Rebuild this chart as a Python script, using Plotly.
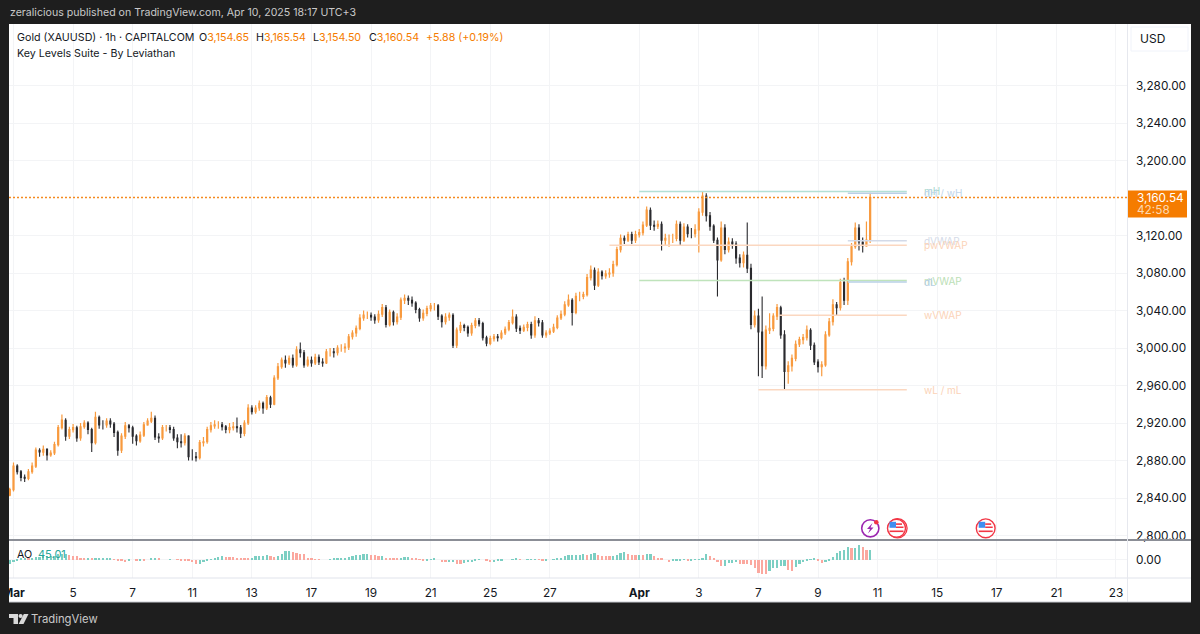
import plotly.graph_objects as go

W, H = 1200, 634

# ---- price data (3-hour-ish samples, one list per session) ----
first_open = 2843
closes = [2849,
 2874,2868,2862,2861,2868,2874,2891,2889,
 2892,2886,2888,2897,2915,2923,2906,2913,
 2915,2904,2916,2920,2913,2899,2926,2918,
 2918,2922,2919,2910,2891,2906,2917,2915,
 2906,2901,2907,2918,2922,2925,2905,2904,
 2915,2915,2913,2904,2900,2899,2906,2884,
 2884,2883,2899,2900,2913,2917,2918,2918,
 2916,2913,2915,2916,2915,2909,2920,2936,
 2932,2936,2941,2936,2947,2940,2968,2980,
 2987,2984,2989,2982,2998,2995,2982,2987,
 2984,2990,2985,2984,2996,2996,2995,3000,
 3000,3001,3012,3016,3021,3032,3035,3035,
 3033,3030,3036,3043,3025,3038,3028,3033,
 3051,3053,3051,3048,3041,3032,3037,3042,
 3045,3045,3034,3028,3033,3035,3003,3019,
 3024,3022,3016,3024,3029,3026,3011,3005,
 3010,3012,3011,3016,3020,3027,3033,3021,
 3019,3022,3025,3014,3029,3027,3014,3016,
 3018,3022,3032,3036,3046,3051,3038,3055,
 3055,3057,3075,3083,3067,3081,3077,3079,
 3080,3089,3105,3117,3115,3121,3115,3121,
 3123,3131,3147,3131,3130,3132,3115,3117,
 3117,3117,3132,3115,3129,3122,3122,3126,
 3145,3162,3141,3130,3115,3094,3128,3105,
 3113,3111,3096,3091,3099,3085,3025,3034,
 3017,2981,3019,3021,3034,3043,3014,2975,
 2981,2989,3004,3009,3011,3019,3003,2985,
 2980,2982,3014,3028,3046,3043,3070,3051,
 3092,3108,3128,3113,3109,3115,3160.54]
highs = [2851,
 2878,2876,2870,2865,2871,2878,2894,2893,
 2896,2893,2891,2900,2918,2929,2925,2916,
 2919,2917,2920,2923,2922,2915,2932,2928,
 2923,2925,2925,2921,2912,2909,2921,2919,
 2917,2908,2911,2921,2925,2932,2928,2909,
 2918,2918,2918,2916,2908,2908,2909,2907,
 2892,2889,2902,2905,2916,2921,2923,2922,
 2921,2918,2920,2921,2926,2918,2923,2940,
 2939,2939,2944,2943,2950,2949,2971,2984,
 2990,2992,2992,2993,3002,3006,2998,2991,
 2991,2994,2993,2989,2999,3000,3000,3003,
 3004,3005,3015,3019,3024,3036,3040,3039,
 3038,3036,3040,3047,3046,3041,3040,3037,
 3054,3057,3056,3055,3050,3043,3041,3045,
 3048,3048,3047,3036,3037,3038,3037,3022,
 3028,3026,3024,3027,3032,3032,3028,3013,
 3013,3015,3015,3019,3023,3030,3041,3036,
 3024,3025,3028,3028,3034,3032,3030,3019,
 3021,3026,3035,3040,3050,3057,3053,3059,
 3060,3060,3079,3088,3086,3085,3083,3083,
 3085,3093,3108,3121,3120,3124,3124,3125,
 3127,3135,3151,3150,3136,3136,3135,3122,
 3121,3122,3136,3135,3133,3132,3128,3132,
 3149,3167,3165,3145,3132,3118,3135,3132,
 3118,3117,3114,3100,3103,3134,3090,3040,
 3042,3055,3024,3037,3037,3047,3045,3019,
 2986,2993,3008,3012,3015,3024,3021,3006,
 2988,2986,3018,3032,3052,3049,3074,3075,
 3096,3112,3134,3132,3118,3135,3165.54]
lows = [2842,
 2847,2865,2858,2857,2859,2866,2872,2884,
 2885,2880,2884,2886,2895,2913,2901,2903,
 2910,2900,2901,2914,2908,2889,2897,2914,
 2913,2915,2915,2905,2885,2888,2903,2910,
 2898,2896,2899,2905,2917,2920,2902,2899,
 2902,2911,2909,2901,2893,2894,2896,2880,
 2880,2879,2881,2895,2898,2910,2914,2914,
 2912,2909,2909,2912,2910,2904,2906,2918,
 2929,2930,2933,2930,2934,2936,2939,2966,
 2978,2979,2982,2979,2980,2990,2979,2980,
 2980,2982,2982,2980,2983,2991,2990,2992,
 2996,2995,2998,3009,3012,3019,3029,3031,
 3029,3026,3027,3033,3022,3023,3024,3025,
 3030,3047,3046,3044,3037,3028,3029,3034,
 3039,3040,3030,3022,3025,3029,3000,3000,
 3016,3018,3012,3013,3021,3023,3008,3002,
 3003,3007,3007,3009,3014,3018,3025,3017,
 3015,3017,3018,3010,3011,3023,3011,3011,
 3014,3016,3020,3030,3034,3044,3024,3036,
 3050,3052,3055,3072,3062,3065,3073,3074,
 3075,3076,3087,3102,3111,3113,3111,3112,
 3118,3120,3129,3126,3125,3127,3104,3110,
 3108,3112,3114,3109,3113,3118,3117,3118,
 3102,3141,3135,3125,3112,3055,3092,3100,
 3102,3106,3090,3086,3086,3080,3020,3022,
 2970,2968,2977,3015,3018,3030,3010,2956,
 2962,2975,2986,3001,3004,3008,2998,2982,
 2974,2970,2980,3012,3024,3035,3040,3046,
 3046,3088,3106,3104,3102,3108,3112]
ao_values = [
 -21,-12,-3,6,9,6,9,12,12,15, 15,18,18,24,27,27,21,18,15,9,
 6,6,3,3,3,4,4,4,1.5,-3, -7,-10,-3,0,-3,-3,-4,0,4,4,
 3,0,0,1,0,-1,-3,-4,-6,-12, -21,-18,-12,-6,1,7,13,15,13,12,
 10,9,7,6,4,9,15,18,18,19, 16,13,18,27,37,37,33,30,27,24,
 9,3,1.5,1,0,0,1,4,6,7, 9,13,16,19,22,25,25,22,19,15,
 15,9,6,4,3,6,12,12,9,6, 1,-4,-3,1,3,0,-9,-12,-12,-10,
 -18,-21,-15,-12,-9,-6,1,0,-3,-12, -10,-6,-3,0,0,1,4,1,0,1,
 1,1,-1,-3,-3,0,1,6,9,15, 21,21,21,21,24,
 22,27,28,19,18,16,15,16,22,31, 34,27,22,21,21,19,24,27,15,9,
 4,0,-10,-7,-3,-3,-1,-3,-3,1, 1,9,25,18,3,-10,-30,-27,-15,-15,
 -10,-18,-19,-21,-25,-40,-61,-63,-67,-51, -40,-36,-30,-27,-48,-51,-33,-21,-13,-3,
 1,4,-3,-15,-10,-3,12,30,37,45, 57,51,54,66,57,42,45.01]
BARS_PER_SESSION = 8
opens = [first_open] + closes[:-1]
sessions = [(i - 1) / BARS_PER_SESSION for i in range(len(closes))]

# ---- axes ----
price_ticks = [2800,2840,2880,2920,2960,3000,3040,3080,3120,3200,3240,3280]
price_tick_labels = ["2,800.00","2,840.00","2,880.00","2,920.00","2,960.00","3,000.00","3,040.00",
                     "3,080.00","3,120.00","3,200.00","3,240.00","3,280.00"]
date_ticks = [0,2,4,6,8,10,12,14,16,18,21,23,25,27,29,31,33,35,37]
date_labels = ["<b>Mar</b>","5","7","11","13","17","19","21","25","27","<b>Apr</b>","3","7","9","11","15","17","21","23"]

# ---- key levels: name, price, start session, colour, label colour ----
level_names  = ["mH","dH / wH","dVWAP","pwVWAP","mVWAP","dL","wVWAP","wL / mL"]
level_prices = [3167,3165,3114.5,3109.5,3072,3070.4,3035,2955.5]
level_starts = [21,28,28,20,21,28,25.7,25]
level_colors = ["#b3e0d6","#b9cfe6","#d3dae8","#fbd7c0","#bfe3bb","#b9d0e6","#fbd7c0","#fbd7c0"]
label_colors = ["#a5d8cd","#c0d5ea","#d5dbe8","#fbd3b8","#bbe0b6","#b6cfe3","#fbd3b8","#fbd3b8"]
level_end = 29.98
label_session = 30.53
last_price = 3160.54

AXIS_RIGHT = 37.37
AXIS_LEFT = -0.151

GRID = "#f3f4f6"
INK = "#131722"
ORANGE = "#f57c00"

def px(x): return x / W
def py(y): return 1 - y / H

fig = go.Figure()

for name, p, s, c in zip(level_names, level_prices, level_starts, level_colors):
    fig.add_trace(go.Scatter(x=[s, level_end], y=[p, p], mode="lines", line=dict(color=c, width=1.5),
                             xaxis="x", yaxis="y", showlegend=False, hoverinfo="skip"))

fig.add_trace(go.Scatter(x=[AXIS_LEFT, AXIS_RIGHT], y=[last_price, last_price], mode="lines",
                         line=dict(color="#f58a1f", width=1.6, dash="2px,2px"),
                         xaxis="x", yaxis="y", showlegend=False, hoverinfo="skip"))

fig.add_trace(go.Candlestick(x=sessions, open=opens, high=highs, low=lows, close=closes,
                             increasing=dict(line=dict(color="#f89a3e", width=1.2), fillcolor="#f89a3e"),
                             decreasing=dict(line=dict(color="#2a2a2e", width=1.1), fillcolor="#2a2a2e"),
                             whiskerwidth=0, xaxis="x", yaxis="y", showlegend=False))

ao_colors = ["#7ccfc3" if i == 0 or v >= ao_values[i - 1] else "#fba89f" for i, v in enumerate(ao_values)]
fig.add_trace(go.Bar(x=sessions[:len(ao_values)], y=ao_values, marker=dict(color=ao_colors, line_width=0),
                     width=0.075, xaxis="x2", yaxis="y2", showlegend=False))

shapes = []
shapes.append(dict(type="rect", xref="paper", yref="paper", x0=px(9), x1=px(1191), y0=py(602), y1=py(24),
                   fillcolor="#ffffff", line_width=0, layer="below"))
shapes.append(dict(type="rect", xref="paper", yref="paper", x0=0, x1=px(9), y0=py(610), y1=py(570),
                   fillcolor="#1e1e1e", line_width=0, layer="above"))
shapes.append(dict(type="line", xref="paper", yref="paper", x0=px(9), x1=px(1191), y0=py(540), y1=py(540),
                   line=dict(color="#8b8e96", width=2), layer="above"))
shapes.append(dict(type="line", xref="paper", yref="paper", x0=px(9), x1=px(1191), y0=py(578), y1=py(578),
                   line=dict(color="#e0e3eb", width=1), layer="above"))
shapes.append(dict(type="line", xref="paper", yref="paper", x0=px(1127.5), x1=px(1127.5), y0=py(602), y1=py(24),
                   line=dict(color="#e6e8ee", width=1), layer="above"))
shapes.append(dict(type="line", xref="paper", yref="paper", x0=px(9), x1=px(1191), y0=py(602), y1=py(602),
                   line=dict(color="#c8cad0", width=1), layer="above"))

def circle(cx, cy, r, fill="rgba(0,0,0,0)", line=None, w=1):
    return dict(type="circle", xref="paper", yref="paper", x0=px(cx - r), x1=px(cx + r),
                y0=py(cy + r), y1=py(cy - r), fillcolor=fill,
                line=dict(color=line or "rgba(0,0,0,0)", width=w), layer="above")

def rect(x0, y0, x1, y1, fill):
    return dict(type="rect", xref="paper", yref="paper", x0=px(x0), x1=px(x1), y0=py(y1), y1=py(y0),
                fillcolor=fill, line_width=0, layer="above")

def poly(points, fill):
    d = "M" + " L".join(f"{px(a):.5f},{py(b):.5f}" for a, b in points) + " Z"
    return dict(type="path", xref="paper", yref="paper", path=d, fillcolor=fill, line_width=0, layer="above")

shapes.append(dict(type="rect", xref="paper", yref="paper", x0=px(1131), x1=px(1188), y0=py(51), y1=py(27),
                   fillcolor="#ffffff", line=dict(color="#f0f3fa", width=1), layer="above"))

# last-price tag
shapes.append(rect(1128, 190.5, 1187, 217.5, ORANGE))

shapes.append(circle(870.3, 528.3, 8.6, "#ffffff", "#9c27b0", 1.6))
shapes.append(poly([(872.5,523),(867,529),(870,529),(868,533.5),(873.5,527.5),(870.5,527.5)], "#9c27b0"))
shapes.append(circle(876.3, 522.3, 2.3, "#f23645"))

def flag(cx, cy, double):
    out = []
    if double:
        out.append(circle(cx + 1, cy, 9.6, "#ffffff", "#f23645", 1.3))
    out.append(circle(cx, cy, 9 if double else 9.4, "#ffffff", "#f23645", 1.4))
    out.append(rect(cx - 7, cy - 6.5, cx - 0.5, cy - 0.5, "#3f8ef0"))
    out.append(rect(cx - 0.5, cy - 5, cx + 5.5, cy - 3.4, "#f23645"))
    out.append(rect(cx - 0.5, cy - 1.8, cx + 7, cy - 0.3, "#f23645"))
    out.append(rect(cx - 7, cy + 2.2, cx + 7, cy + 3.8, "#f23645"))
    return out

shapes += flag(896.5, 528.3, True)
shapes += flag(985.7, 528.3, False)

shapes.append(poly([(9,614),(18,614),(18,624),(13.5,624),(13.5,618),(9,618)], "#d9d9d9"))
shapes.append(circle(20.6, 616, 2.1, "#d9d9d9"))
shapes.append(poly([(23.8,614),(28.5,614),(23.5,624),(18.7,624)], "#d9d9d9"))

def note(x, y, text, size=10.7, color=INK, anchor="left"):
    return dict(xref="paper", yref="paper", x=px(x), y=py(y), text=text, showarrow=False,
                xanchor=anchor, yanchor="middle", font=dict(size=size, color=color, family="Inter"),
                align="left", borderpad=0)

def orange(s): return f'<span style="color:{ORANGE}">{s}</span>'

notes = [
    note(9, 13, "zeralicious published on TradingView.com, Apr 10, 2025 18:17 UTC+3", 10.6, "#c9c9c9"),
    note(16, 38, "Gold (XAUUSD) · 1h · CAPITALCOM"),
    note(198, 38, "O" + orange("3,154.65")),
    note(255, 38, "H" + orange("3,165.54")),
    note(312, 38, "L" + orange("3,154.50")),
    note(368, 38, "C" + orange("3,160.54")),
    note(425, 38, orange("+5.88 (+0.19%)")),
    note(16, 53, "Key Levels Suite - By Leviathan"),
    note(16, 554, "AO"),
    note(37, 554, "45.01", 11, "#26a69a"),
    note(1139, 39, "USD", 12),
    note(30, 619, "TradingView", 11.3, "#c9c9c9"),
    note(1136, 197.5, "3,160.54", 11.8, "#ffffff"),
    note(1136, 210, "42:58", 11.8, "#fcd9b0"),
]
for name, p, c in zip(level_names, level_prices, label_colors):
    notes.append(dict(x=label_session, y=p, xref="x", yref="y", text=name, showarrow=False,
                      xanchor="left", yanchor="middle", borderpad=0, font=dict(size=10, color=c, family="Inter")))

fig.update_layout(
    width=W, height=H, autosize=False,
    margin=dict(l=0, r=0, t=0, b=0, pad=0, autoexpand=False),
    paper_bgcolor="#1e1e1e", plot_bgcolor="rgba(0,0,0,0)",
    boxgap=0.6, bargap=0, showlegend=False,
    font=dict(family="Inter", color=INK, size=12),
    shapes=shapes, annotations=notes,
    xaxis=dict(domain=[px(9), px(1127)], range=[AXIS_LEFT, AXIS_RIGHT], type="linear", anchor="y",
               rangeslider=dict(visible=False), tickmode="array", tickvals=date_ticks, ticktext=date_labels,
               showticklabels=False, showgrid=True, gridcolor=GRID, gridwidth=1, zeroline=False, showline=False),
    xaxis2=dict(domain=[px(9), px(1127)], range=[AXIS_LEFT, AXIS_RIGHT], type="linear", anchor="y2",
                tickmode="array", tickvals=date_ticks, ticktext=date_labels, showgrid=True, gridcolor=GRID,
                zeroline=False, showline=False, ticks="", ticklabelstandoff=6, tickfont=dict(size=11.8, color=INK)),
    yaxis=dict(domain=[py(540), py(24)], range=[2795.2, 3345.6], side="right", anchor="x", tickmode="array",
               tickvals=price_ticks, ticktext=price_tick_labels, showgrid=True, gridcolor=GRID, zeroline=False,
               showline=False, ticks="", ticklabelstandoff=8, tickfont=dict(size=11.8, color=INK)),
    yaxis2=dict(domain=[py(578), py(540)], range=[-83.25, 87.75], side="right", anchor="x2", tickmode="array",
                tickvals=[0], ticktext=["0.00"], showgrid=True, gridcolor=GRID, zeroline=False,
                showline=False, ticks="", ticklabelstandoff=8, tickfont=dict(size=11.8, color=INK)),
)

fig.write_html("out.html", config=dict(displayModeBar=False),
               post_script="document.body.style.margin='0';document.body.style.background='#1e1e1e';document.documentElement.style.overflow='hidden';")
